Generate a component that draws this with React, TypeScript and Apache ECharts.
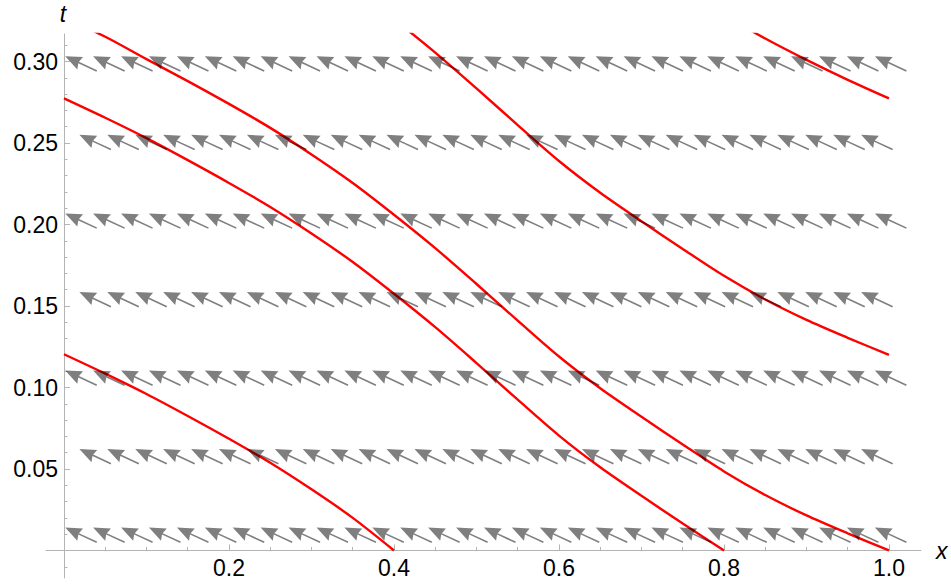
import React, { useEffect, useRef } from 'react';
import * as echarts from 'echarts';

// ---- Axis ticks ----
const xMajorTicks = [0.2, 0.4, 0.6, 0.8, 1.0];
const xMinorTicks = [0.05, 0.1, 0.15, 0.25, 0.3, 0.35, 0.45, 0.5, 0.55, 0.65, 0.7, 0.75, 0.85, 0.9, 0.95];
const tMajorTicks = [0.05, 0.1, 0.15, 0.2, 0.25, 0.3];
const tMinorTicks = [-0.01, 0.01, 0.02, 0.03, 0.04, 0.06, 0.07, 0.08, 0.09, 0.11, 0.12, 0.13, 0.14, 0.16, 0.17, 0.18, 0.19, 0.21, 0.22, 0.23, 0.24, 0.26, 0.27, 0.28, 0.29, 0.31];

// ---- Vector field sample points (staggered rows) ----
const arrowRowsT = [0.0095, 0.0577, 0.1059, 0.1541, 0.2023, 0.2505, 0.2987];
const arrowColsLong = [
  0.0206, 0.0544, 0.0883, 0.1221, 0.156, 0.1898, 0.2236, 0.2575, 0.2913, 0.3252,
  0.359, 0.3928, 0.4267, 0.4605, 0.4944, 0.5282, 0.562, 0.5959, 0.6297, 0.6636,
  0.6974, 0.7312, 0.7651, 0.7989, 0.8328, 0.8666, 0.9004, 0.9343, 0.9681, 1.002,
];
const arrowColsShort = [
  0.0378, 0.0716, 0.1055, 0.1393, 0.1732, 0.207, 0.2408, 0.2747, 0.3085, 0.3424,
  0.3762, 0.41, 0.4439, 0.4777, 0.5116, 0.5454, 0.5792, 0.6131, 0.6469, 0.6808,
  0.7146, 0.7484, 0.7823, 0.8161, 0.85, 0.8838, 0.9176, 0.9515, 0.9853,
];

// ---- Characteristic curves [x, t] ----
const curve1 = [
  [0, 0.1204], [0.05, 0.1085], [0.1, 0.096], [0.15, 0.0825], [0.2, 0.0685],
  [0.25, 0.0538], [0.3, 0.0375], [0.35, 0.02], [0.4, 0],
];
const curve2 = [
  [0, 0.2774], [0.05, 0.2655], [0.1, 0.253], [0.15, 0.2395], [0.2, 0.2255],
  [0.25, 0.2108], [0.3, 0.1945], [0.35, 0.177], [0.4, 0.1575], [0.45, 0.137],
  [0.5, 0.115], [0.55, 0.0925], [0.6, 0.0705], [0.65, 0.051], [0.7, 0.0335],
  [0.75, 0.0165], [0.8, 0],
];
const curve3 = [
  [0, 0.327], [0.05, 0.3152], [0.1, 0.3015], [0.15, 0.288], [0.2, 0.274],
  [0.25, 0.2593], [0.3, 0.243], [0.35, 0.2255], [0.4, 0.206], [0.45, 0.1855],
  [0.5, 0.1635], [0.55, 0.141], [0.6, 0.119], [0.65, 0.0995], [0.7, 0.082],
  [0.75, 0.065], [0.8, 0.0485], [0.85, 0.034], [0.9, 0.0215], [0.95, 0.0105], [1.0, 0],
];
const curve4 = [
  [0.4, 0.326], [0.45, 0.3055], [0.5, 0.2835], [0.55, 0.261], [0.6, 0.239],
  [0.65, 0.2195], [0.7, 0.202], [0.75, 0.185], [0.8, 0.1685], [0.85, 0.154],
  [0.9, 0.1415], [0.95, 0.1305], [1.0, 0.12],
];
const curve5 = [[0.8, 0.3285], [0.85, 0.3141], [0.9, 0.301], [0.95, 0.2888], [1.0, 0.2774]];
const curves = [curve1, curve2, curve3, curve4, curve5];

const X_MIN = -0.0218;
const X_MAX = 1.0388;
const T_MIN = -0.0169;
const T_MAX = 0.3169;

const FONT = "'Liberation Sans', Arial, Helvetica, sans-serif";
const AXIS_GRAY = '#b4b4b4';

// arrow geometry (pixels)
const ARROW_HALF_LEN = 17.4;
const HEAD_LEN = 16.5;
const HEAD_NOTCH = 14.8;
const HEAD_HALF_W = 6.8;
const SHAFT_HALF_W = 0.8;
const ARROW_ANGLE_DEG = 25;

export default function App() {
  const ref = useRef<HTMLDivElement>(null);

  useEffect(() => {
    if (!ref.current) return;
    const chart = echarts.init(ref.current, undefined, { renderer: 'svg' });

    const arrowData: number[][] = [];
    arrowRowsT.forEach((t, i) => {
      const cols = i % 2 === 0 ? arrowColsLong : arrowColsShort;
      cols.forEach((x) => arrowData.push([x, t]));
    });

    const a = (ARROW_ANGLE_DEG * Math.PI) / 180;
    const ux = -Math.cos(a);
    const uy = -Math.sin(a);
    const nx = -uy;
    const ny = ux;

    const renderArrow = (params: any, api: any) => {
      const c = api.coord([api.value(0), api.value(1)]);
      const tip = [c[0] + ux * ARROW_HALF_LEN, c[1] + uy * ARROW_HALF_LEN];
      const tail = [c[0] - ux * ARROW_HALF_LEN, c[1] - uy * ARROW_HALF_LEN];
      const back = (d: number, k: number) => [tip[0] - ux * d + nx * k, tip[1] - uy * d + ny * k];
      const side = (pt: number[], k: number) => [pt[0] + nx * k, pt[1] + ny * k];
      const points = [
        tip,
        back(HEAD_LEN, HEAD_HALF_W),
        back(HEAD_NOTCH, SHAFT_HALF_W),
        side(tail, SHAFT_HALF_W),
        side(tail, -SHAFT_HALF_W),
        back(HEAD_NOTCH, -SHAFT_HALF_W),
        back(HEAD_LEN, -HEAD_HALF_W),
      ];
      return {
        type: 'polygon',
        shape: { points },
        style: { fill: 'rgba(0,0,0,0.5)', stroke: 'none' },
      };
    };

    const labelStyle = { color: '#000', fontSize: 23, fontFamily: FONT };

    const option: any = {
      animation: false,
      backgroundColor: '#ffffff',
      grid: [
        { left: 46, right: 30, top: 34, bottom: 8, containLabel: false, outerBoundsMode: 'none' },
        { left: 64, right: 30, top: 34, bottom: 35.5, containLabel: false, outerBoundsMode: 'none' },
      ],
      xAxis: [
        {
          type: 'value',
          gridIndex: 0,
          min: X_MIN,
          max: X_MAX,
          position: 'bottom',
          splitLine: { show: false },
          axisLine: { show: true, onZero: true, onZeroAxisIndex: 0, lineStyle: { color: AXIS_GRAY, width: 1 } },
          axisTick: { show: true, inside: true, length: 6, customValues: xMajorTicks, lineStyle: { color: AXIS_GRAY, width: 1 } },
          axisLabel: { show: false },
        },
        {
          type: 'value',
          gridIndex: 0,
          min: X_MIN,
          max: X_MAX,
          position: 'bottom',
          splitLine: { show: false },
          axisLine: { show: false, onZero: true, onZeroAxisIndex: 0 },
          axisTick: { show: true, inside: true, length: 3.5, customValues: xMinorTicks, lineStyle: { color: AXIS_GRAY, width: 1 } },
          axisLabel: { show: false },
        },
        {
          type: 'value',
          gridIndex: 1,
          min: 0,
          max: X_MAX,
          position: 'bottom',
          splitLine: { show: false },
          axisLine: { show: false, onZero: false },
          axisTick: { show: false },
          axisLabel: { show: true, customValues: xMajorTicks, margin: 6, ...labelStyle, formatter: (v: number) => v.toFixed(1) },
        },
      ],
      yAxis: [
        {
          type: 'value',
          gridIndex: 0,
          min: T_MIN,
          max: T_MAX,
          position: 'left',
          splitLine: { show: false },
          axisLine: { show: true, onZero: true, onZeroAxisIndex: 0, lineStyle: { color: AXIS_GRAY, width: 1 } },
          axisTick: { show: true, inside: true, length: 6, customValues: tMajorTicks, lineStyle: { color: AXIS_GRAY, width: 1 } },
          axisLabel: { show: false },
        },
        {
          type: 'value',
          gridIndex: 0,
          min: T_MIN,
          max: T_MAX,
          position: 'left',
          splitLine: { show: false },
          axisLine: { show: false, onZero: true, onZeroAxisIndex: 0 },
          axisTick: { show: true, inside: true, length: 3.5, customValues: tMinorTicks, lineStyle: { color: AXIS_GRAY, width: 1 } },
          axisLabel: { show: false },
        },
        {
          type: 'value',
          gridIndex: 1,
          min: 0,
          max: T_MAX,
          position: 'left',
          splitLine: { show: false },
          axisLine: { show: false, onZero: false },
          axisTick: { show: false },
          axisLabel: { show: true, customValues: tMajorTicks, margin: 6, ...labelStyle, formatter: (v: number) => v.toFixed(2) },
        },
      ],
      graphic: [
        {
          type: 'text',
          x: 63,
          y: 14,
          style: { text: 't', font: `italic 23px ${FONT}`, fill: '#000', textAlign: 'center', textVerticalAlign: 'middle' },
        },
        {
          type: 'text',
          x: 936,
          y: 551,
          style: { text: 'x', font: `italic 23px ${FONT}`, fill: '#000', textAlign: 'left', textVerticalAlign: 'middle' },
        },
      ],
      series: [
        ...curves.map((c) => ({
          type: 'line',
          xAxisIndex: 0,
          yAxisIndex: 0,
          data: c,
          showSymbol: false,
          symbol: 'none',
          smooth: 0.3,
          clip: true,
          silent: true,
          z: 2,
          lineStyle: { color: '#ff0000', width: 2.4 },
        })),
        {
          type: 'custom',
          xAxisIndex: 0,
          yAxisIndex: 0,
          data: arrowData,
          renderItem: renderArrow,
          clip: false,
          silent: true,
          z: 3,
        },
      ],
    };

    chart.setOption(option);
    return () => chart.dispose();
  }, []);

  return <div ref={ref} style={{ position: 'fixed', left: 0, top: 0, width: 951, height: 586, background: '#fff' }} />;
}
